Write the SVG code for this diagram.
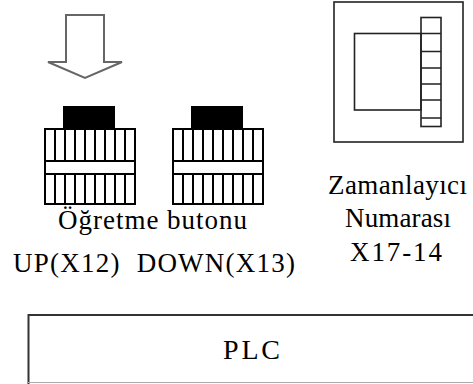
<svg xmlns="http://www.w3.org/2000/svg" width="473" height="384" viewBox="0 0 473 384">
  <style>
    .btn { fill: #fff; stroke: #000; stroke-width: 2; }
    .cap { fill: #000; }
    .rib { stroke: #000; stroke-width: 2; }
    .tmr { fill: none; stroke: #222; stroke-width: 1.6; }
  </style>
  <defs>
    <!-- push button: black cap on a ribbed body with a plain middle band -->
    <g id="pushButton">
      <rect class="cap" x="18" y="0" width="52" height="23"/>
      <rect class="btn" x="0" y="23" width="90" height="75"/>
      <rect class="btn" x="0" y="55" width="90" height="13"/>
      <path class="rib" d="M10 23V55M20 23V55M30 23V55M40 23V55M50 23V55M60 23V55M70 23V55M80 23V55M10 68V98M20 68V98M30 68V98M40 68V98M50 68V98M60 68V98M70 68V98M80 68V98"/>
    </g>
  </defs>

  <rect width="473" height="384" fill="#fff"/>

  <g id="press-arrow">
    <polygon points="66,15 104,15 104,62 122,62 85,78 48,62 66,62" fill="#fff" stroke="#666" stroke-width="2" stroke-linejoin="miter"/>
  </g>

  <g id="button-up">
    <use href="#pushButton" x="45" y="106"/>
  </g>

  <g id="button-down">
    <use href="#pushButton" x="173" y="106"/>
  </g>

  <g id="timer-selector">
    <rect class="tmr" x="334" y="2" width="129" height="140"/>
    <rect class="tmr" x="354.5" y="33.5" width="66.5" height="76.5"/>
    <rect class="tmr" x="421" y="17.5" width="20" height="109"/>
    <path class="tmr" d="M421 33.5H441M421 51.5H441M421 68H441M421 84H441M421 100H441M421 118H441"/>
  </g>

  <g id="button-labels">
    <text x="58" y="229" font-family="Liberation Serif, serif" font-size="27" textLength="189">Öğretme butonu</text>
    <text x="13" y="272" font-family="Liberation Serif, serif" font-size="27" textLength="282" xml:space="preserve">UP(X12)  DOWN(X13)</text>
  </g>

  <g id="timer-labels">
    <text x="328" y="194" font-family="Liberation Serif, serif" font-size="27" textLength="139">Zamanlayıcı</text>
    <text x="345" y="227" font-family="Liberation Serif, serif" font-size="27" textLength="106">Numarası</text>
    <text x="350" y="261" font-family="Liberation Serif, serif" font-size="27" textLength="92">X17-14</text>
  </g>

  <g id="plc">
    <path d="M28.5 384V315H473" fill="none" stroke="#333" stroke-width="2"/>
    <line x1="28" y1="382.5" x2="473" y2="382.5" stroke="#aaa" stroke-width="1"/>
    <text x="223" y="359" font-family="Liberation Serif, serif" font-size="28" textLength="57">PLC</text>
  </g>

  <g id="connectors"/>
</svg>
